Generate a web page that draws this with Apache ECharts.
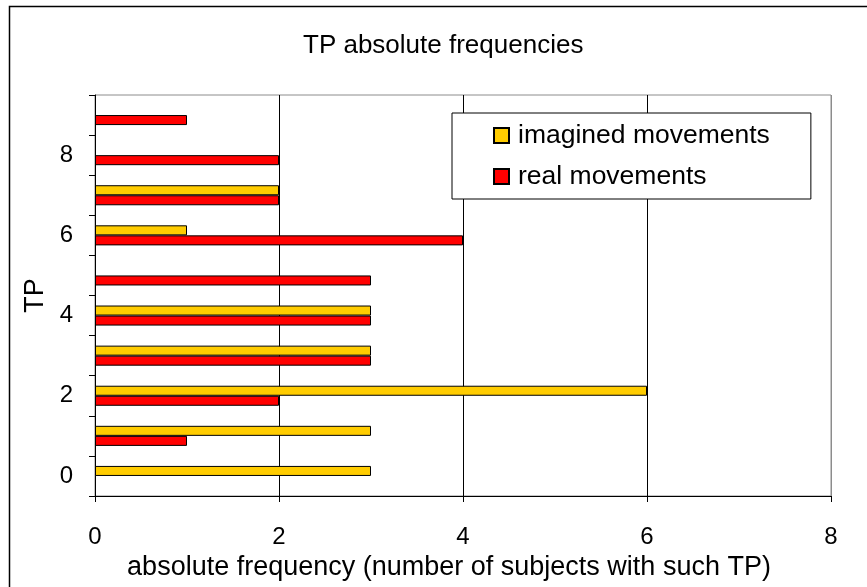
<!DOCTYPE html>
<html>
<head>
<meta charset="utf-8">
<script src="https://cdn.jsdelivr.net/npm/echarts@6/dist/echarts.min.js"></script>
<style>
  html, body { margin: 0; padding: 0; background: #fff; }
  #chart { width: 867px; height: 587px; }
</style>
</head>
<body>
<div id="chart"></div>
<script>
// TP values (categories, bottom to top)
const tpCategories = ['0', '1', '2', '3', '4', '5', '6', '7', '8', '9'];
// number of subjects per TP
const imaginedMovements = [3, 3, 6, 3, 3, 0, 1, 2, 0, 0];
const realMovements     = [0, 1, 2, 3, 3, 3, 4, 2, 2, 1];
const seriesNames = ['imagined movements', 'real movements'];
const xTicks = { min: 0, max: 8, step: 2 };

const FONT = 'Liberation Sans, Arial, sans-serif';
// a zero count draws no bar at all
const toBars = arr => arr.map(v => (v === 0 ? null : v));

const chart = echarts.init(document.getElementById('chart'), null, { renderer: 'canvas' });

chart.setOption({
  animation: false,
  backgroundColor: '#fff',
  textStyle: { fontFamily: FONT, color: '#000' },
  title: {
    text: 'TP absolute frequencies',
    left: 303,
    top: 33,
    padding: 0,
    textStyle: { fontFamily: FONT, fontSize: 26, fontWeight: 'normal', color: '#000', lineHeight: 26 }
  },
  graphic: [{
    type: 'rect',
    shape: { x: 9.5, y: 6.5, width: 1000, height: 1000 },
    style: { fill: null, stroke: '#000', lineWidth: 1.5 },
    silent: true
  }],
  legend: {
    orient: 'vertical',
    left: 452,
    top: 113,
    data: seriesNames,
    backgroundColor: '#fff',
    borderColor: '#000',
    borderWidth: 1,
    padding: [9, 41, 9, 41],
    itemGap: 14,
    itemWidth: 15,
    itemHeight: 15,
    icon: 'rect',
    textStyle: { fontFamily: FONT, fontSize: 26.5, color: '#000', lineHeight: 26, padding: [0, 0, 0, 4] }
  },
  grid: {
    left: 95, right: 36, top: 95, bottom: 91,
    show: true, borderColor: '#8c8c8c', borderWidth: 1, containLabel: false
  },
  xAxis: {
    type: 'value',
    min: xTicks.min, max: xTicks.max, interval: xTicks.step,
    name: 'absolute frequency (number of subjects with such TP)',
    nameLocation: 'middle',
    nameGap: 55,
    nameTextStyle: { fontFamily: FONT, fontSize: 27, color: '#000', lineHeight: 27, padding: [0, 28, 0, 0] },
    axisLine: { show: true, lineStyle: { color: '#000', width: 1 } },
    axisTick: { show: true, length: 6, lineStyle: { color: '#000' } },
    axisLabel: { margin: 29, fontFamily: FONT, fontSize: 24, color: '#000' },
    splitLine: { show: true, lineStyle: { color: ['#000', '#000', '#000', '#000', '#8c8c8c'], width: 1 } }
  },
  yAxis: {
    type: 'category',
    data: tpCategories,
    name: 'TP',
    nameLocation: 'middle',
    nameGap: 44,
    nameRotate: 90,
    nameTextStyle: { fontFamily: FONT, fontSize: 27, color: '#000' },
    axisLine: { show: true, lineStyle: { color: '#000', width: 1 } },
    axisTick: { show: true, length: 6, interval: 0, lineStyle: { color: '#000' } },
    axisLabel: { interval: 1, margin: 22, fontFamily: FONT, fontSize: 24, color: '#000' },
    splitLine: { show: false }
  },
  series: [
    {
      name: seriesNames[0],
      type: 'bar',
      data: toBars(imaginedMovements),
      barGap: '0%',
      barCategoryGap: '50%',
      itemStyle: { color: '#FFCC00', borderColor: '#000', borderWidth: 1 }
    },
    {
      name: seriesNames[1],
      type: 'bar',
      data: toBars(realMovements),
      barGap: '0%',
      barCategoryGap: '50%',
      itemStyle: { color: '#FF0000', borderColor: '#000', borderWidth: 1 }
    }
  ]
});
</script>
</body>
</html>
